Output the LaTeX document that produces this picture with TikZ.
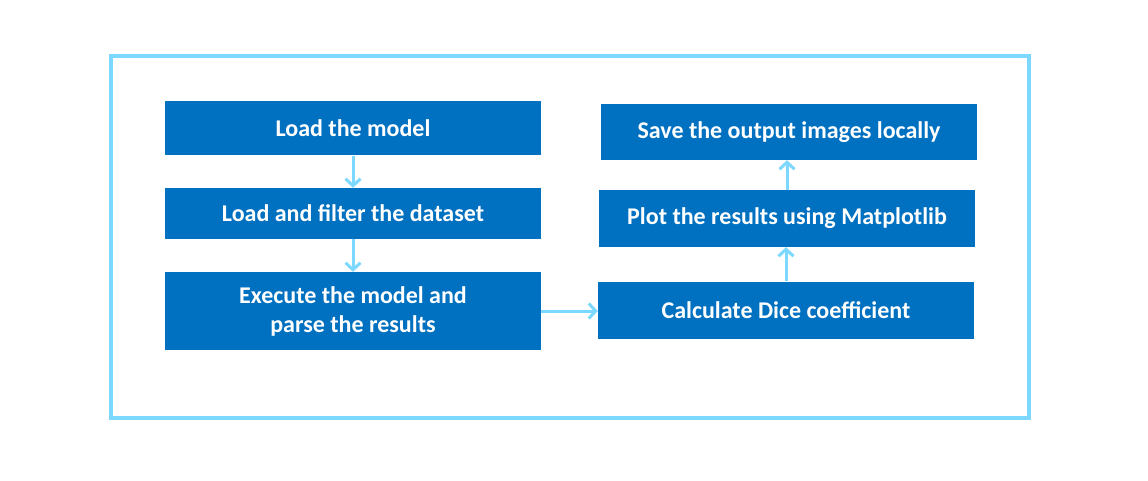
\documentclass[tikz,border=0pt]{standalone}
\usepackage{fontspec}
\setmainfont{Carlito}
\usepackage{xcolor}
\usetikzlibrary{positioning,arrows.meta}

\definecolor{stepblue}{RGB}{0,112,192}
\definecolor{linkblue}{RGB}{125,216,255}

\tikzset{
  stepbox/.style={draw=none, fill=stepblue, text=white, font=\fontsize{24}{29}\selectfont\bfseries,
    minimum width=376pt, minimum height=54pt, align=center, inner sep=0pt},
  link/.style={draw=linkblue, line width=3pt, -{Straight Barb[length=7pt,width=15pt]}}
}

\begin{document}
\begin{tikzpicture}[x=1pt, y=-1pt]
    \useasboundingbox (0,0) rectangle (1148,481);
    \draw [linkblue, line width=4pt] (111,56) rectangle (1029,418);

    \node [stepbox] (load) at (353,128.5) {Load the model};
    \node [stepbox, minimum height=51pt] (filter) at (353,213.5) {Load and filter the dataset};
    \node [stepbox, minimum height=78pt] (exec) at (353,311) {Execute the model and\\parse the results};

    \node [stepbox, minimum height=57pt] (calc) at (786,310) {Calculate Dice coefficient};
    \node [stepbox, minimum height=57pt] (plot) at (787,218.5) {Plot the results using Matplotlib};
    \node [stepbox, minimum height=56pt] (save) at (789,132) {Save the output images locally};

    \draw [link] (load) -- (filter);
    \draw [link] (filter) -- (exec);
    \draw [link] (exec.east) -- (exec.east -| calc.west);
    \draw [link] (calc.north) -- (calc.north |- plot.south);
    \draw [link] (plot.north) -- (plot.north |- save.south);
\end{tikzpicture}
\end{document}
